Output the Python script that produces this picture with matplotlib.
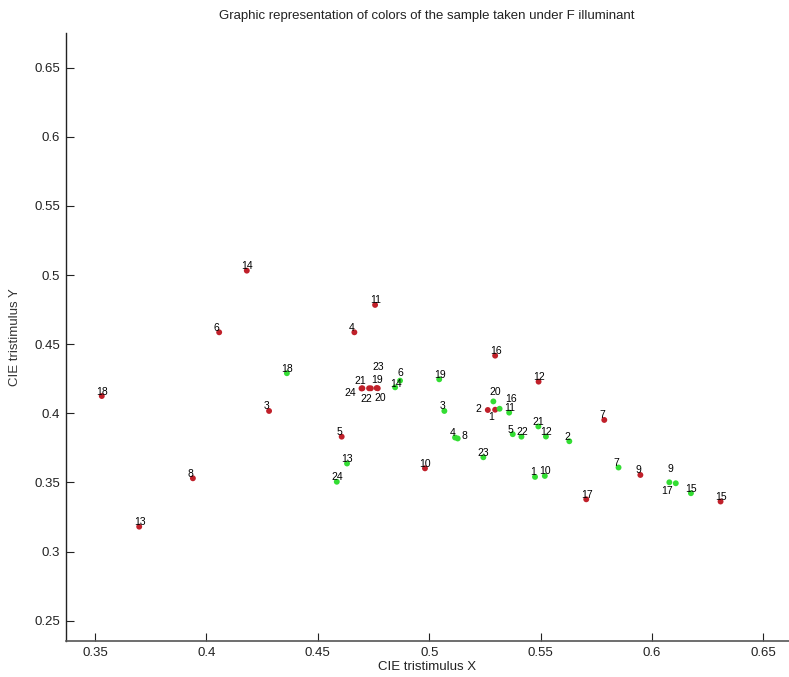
import matplotlib
matplotlib.use("Agg")
import matplotlib.pyplot as plt

# ---- data ----
red_ids = list(range(1, 25))
red_x = [0.5296, 0.5263, 0.4281, 0.4664, 0.4607, 0.4057, 0.5786, 0.3939, 0.5948, 0.4981,
         0.4757, 0.5491, 0.3698, 0.4181, 0.6308, 0.5296, 0.5705, 0.3530, 0.4738, 0.4769,
         0.4700, 0.4730, 0.4764, 0.4696]
red_y = [0.4026, 0.4024, 0.4017, 0.4586, 0.3831, 0.4586, 0.3952, 0.3530, 0.3554, 0.3602,
         0.4784, 0.4229, 0.3180, 0.5032, 0.3362, 0.4417, 0.3378, 0.4125, 0.4181, 0.4181,
         0.4181, 0.4181, 0.4183, 0.4180]

green_ids = list(range(1, 25))
green_x = [0.5475, 0.5629, 0.5068, 0.5116, 0.5375, 0.4869, 0.5850, 0.5128, 0.6078, 0.5519,
           0.5359, 0.5524, 0.4631, 0.4847, 0.6175, 0.5316, 0.6107, 0.4361, 0.5045, 0.5288,
           0.5490, 0.5414, 0.5243, 0.4585]
green_y = [0.3540, 0.3798, 0.4017, 0.3825, 0.3849, 0.4236, 0.3608, 0.3818, 0.3501, 0.3547,
           0.4005, 0.3832, 0.3637, 0.4188, 0.3422, 0.4033, 0.3494, 0.4290, 0.4246, 0.4086,
           0.3905, 0.3831, 0.3682, 0.3505]

x_ticks = [0.35, 0.4, 0.45, 0.5, 0.55, 0.6, 0.65]
y_ticks = [0.25, 0.3, 0.35, 0.4, 0.45, 0.5, 0.55, 0.6, 0.65]
x_tick_labels = ["0.35", "0.4", "0.45", "0.5", "0.55", "0.6", "0.65"]
y_tick_labels = ["0.25", "0.3", "0.35", "0.4", "0.45", "0.5", "0.55", "0.6", "0.65"]

title = "Graphic representation of colors of the sample taken under F illuminant"
xlabel = "CIE tristimulus X"
ylabel = "CIE tristimulus Y"

# ---- label placement (pixel offsets of label centre from its dot) ----
red_label_offsets = {21: (-1.6, 7.3), 24: (-11.5, -4.8), 22: (-2.3, -11.0),
                     19: (6.6, 8.3), 20: (2.3, -9.4), 23: (1.2, 21.3),
                     2: (-9.0, 1.0), 1: (-4.0, -7.0)}
green_label_offsets = {20: (1.7, 9.8), 16: (11.5, 10.1), 8: (6.3, 2.5),
                       9: (0.7, 13.3), 17: (-8.7, -7.7), 6: (0.5, 8.0),
                       14: (0.5, 3.0)}

FONT = ["Liberation Sans", "DejaVu Sans"]
plt.rcParams["font.family"] = FONT

W, H = 789, 677
fig = plt.figure(figsize=(W / 100, H / 100), dpi=100)
ax = fig.add_axes([65.7 / W, 1 - 641 / H, (788.5 - 65.7) / W, (641 - 33) / H])

red_c = "#C0202A"
green_c = "#33DD33"
ax.scatter(red_x, red_y, s=18, color=red_c, edgecolors="none", zorder=2)
ax.scatter(green_x, green_y, s=18, color=green_c, edgecolors="none", zorder=2)


def default_offset(n):
    txt = str(n)
    return (-5 + len(txt) * 5.4 / 2, 4.5)


for ids, xs, ys, offs in [(red_ids, red_x, red_y, red_label_offsets),
                          (green_ids, green_x, green_y, green_label_offsets)]:
    for i, x, y in zip(ids, xs, ys):
        dx, dy = offs.get(i, default_offset(i))
        ax.annotate(str(i), (x, y), xytext=(dx, dy), textcoords="offset pixels",
                    ha="center", va="center", fontsize=7.5, color="black", zorder=3)

ax.set_xlim(0.3368, 0.6613)
ax.set_ylim(0.2353, 0.6751)
ax.set_xticks(x_ticks)
ax.set_xticklabels(x_tick_labels)
ax.set_yticks(y_ticks)
ax.set_yticklabels(y_tick_labels)

for s in ["top", "right"]:
    ax.spines[s].set_visible(False)
ax.spines["left"].set_color("#222222")
ax.spines["bottom"].set_color("#555555")
ax.spines["left"].set_linewidth(1.0)
ax.spines["bottom"].set_linewidth(1.2)

ax.tick_params(direction="in", length=6, width=0.8, labelsize=9.5, pad=4,
               colors="#222222", labelcolor="#222222")

ax.set_title(title, fontsize=9.5, color="#222222", pad=10)
ax.set_xlabel(xlabel, fontsize=9.5, color="#222222", labelpad=2)
ax.set_ylabel(ylabel, fontsize=9.5, color="#333333", labelpad=10)

fig.savefig("out.png", dpi=100)
